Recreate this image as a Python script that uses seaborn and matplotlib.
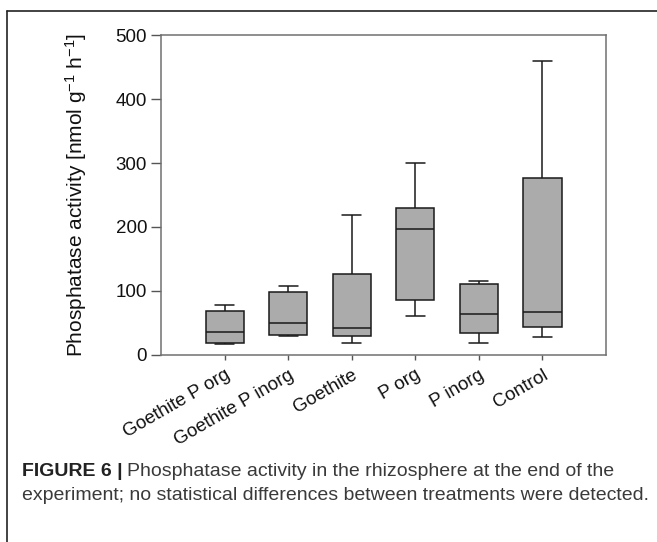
import numpy as np
import pandas as pd
import matplotlib
matplotlib.use("Agg")
import matplotlib.pyplot as plt
import seaborn as sns

# -----------------------------
# DATA
# -----------------------------
treatments = ["Goethite P org", "Goethite P inorg", "Goethite", "P org", "P inorg", "Control"]
whisker_low = [16, 30, 19, 60, 18, 28]
quartile_1 = [18, 30.5, 29, 86, 34, 43]
medians = [35, 50, 41, 197, 63, 67]
quartile_3 = [68, 98, 126, 230, 110, 276]
whisker_high = [77, 108, 218, 300, 115, 460]

y_ticks = [0, 100, 200, 300, 400, 500]

# five points per group -> exact box stats with whis=(0, 100)
rows = []
for i, name in enumerate(treatments):
    for v in [whisker_low[i], quartile_1[i], medians[i], quartile_3[i], whisker_high[i]]:
        rows.append({"treatment": name, "activity": v})
df = pd.DataFrame(rows)

# -----------------------------
# STYLE
# -----------------------------
sns.set_style("ticks")
plt.rcParams["font.family"] = ["Liberation Sans", "DejaVu Sans"]
plt.rcParams["mathtext.fontset"] = "custom"
plt.rcParams["mathtext.rm"] = "Liberation Sans"
plt.rcParams["mathtext.it"] = "Liberation Sans:italic"
plt.rcParams["mathtext.bf"] = "Liberation Sans:bold"

fig = plt.figure(figsize=(6.57, 5.42), dpi=100)
ax = fig.add_axes([0.2451, 0.3456, 0.6773, 0.5893])

sns.boxplot(
    data=df,
    x="treatment",
    y="activity",
    order=treatments,
    whis=(0, 100),
    width=0.6,
    color="#ababab",
    linecolor="#1a1a1a",
    linewidth=1.1,
    saturation=1,
    showfliers=False,
    ax=ax
)

ax.set_xlim(-1, 6)
ax.set_ylim(0, 500)
ax.set_yticks(y_ticks)
ax.set_xlabel("")
ax.set_ylabel(r"Phosphatase activity [nmol g$^{\mathregular{-1}}$ h$^{\mathregular{-1}}$]",
              fontsize=15, labelpad=19, color="#111111")

for side in ["left", "right", "top", "bottom"]:
    ax.spines[side].set_visible(True)
    ax.spines[side].set_color("#707070")
    ax.spines[side].set_linewidth(1.1)

ax.tick_params(axis="y", length=7, width=1, color="#555555", labelsize=13.5, pad=3,
               labelcolor="#111111")
ax.tick_params(axis="x", length=3.5, width=1, color="#555555", labelsize=13.5, pad=5,
               labelcolor="#111111")

for lab in ax.get_xticklabels():
    lab.set_rotation(30)
    lab.set_ha("right")
    lab.set_va("top")
    lab.set_rotation_mode("anchor")

# -----------------------------
# FRAME AND CAPTION
# -----------------------------
fig.add_artist(plt.Line2D([7 / 657, 1.0], [1 - 11 / 542, 1 - 11 / 542],
                          transform=fig.transFigure, color="#222222", lw=1.2))
fig.add_artist(plt.Line2D([7 / 657, 7 / 657], [0, 1 - 11 / 542],
                          transform=fig.transFigure, color="#222222", lw=1.2))

cap_font = ["Liberation Sans", "DejaVu Sans"]
x0 = 22 / 657
y1 = 1 - 471 / 542
y2 = 1 - 496 / 542
bold = fig.text(x0, y1, "FIGURE 6 |", fontsize=14, fontweight="bold",
                family=cap_font, color="#222222", va="center")
fig.canvas.draw()
bb = bold.get_window_extent().transformed(fig.transFigure.inverted())
fig.text(bb.x1 + 4 / 657, y1, "Phosphatase activity in the rhizosphere at the end of the",
         fontsize=14, family=cap_font, color="#3a3a3a", va="center")
fig.text(x0, y2, "experiment; no statistical differences between treatments were detected.",
         fontsize=14, family=cap_font, color="#3a3a3a", va="center")

fig.savefig("out.png", dpi=100)
